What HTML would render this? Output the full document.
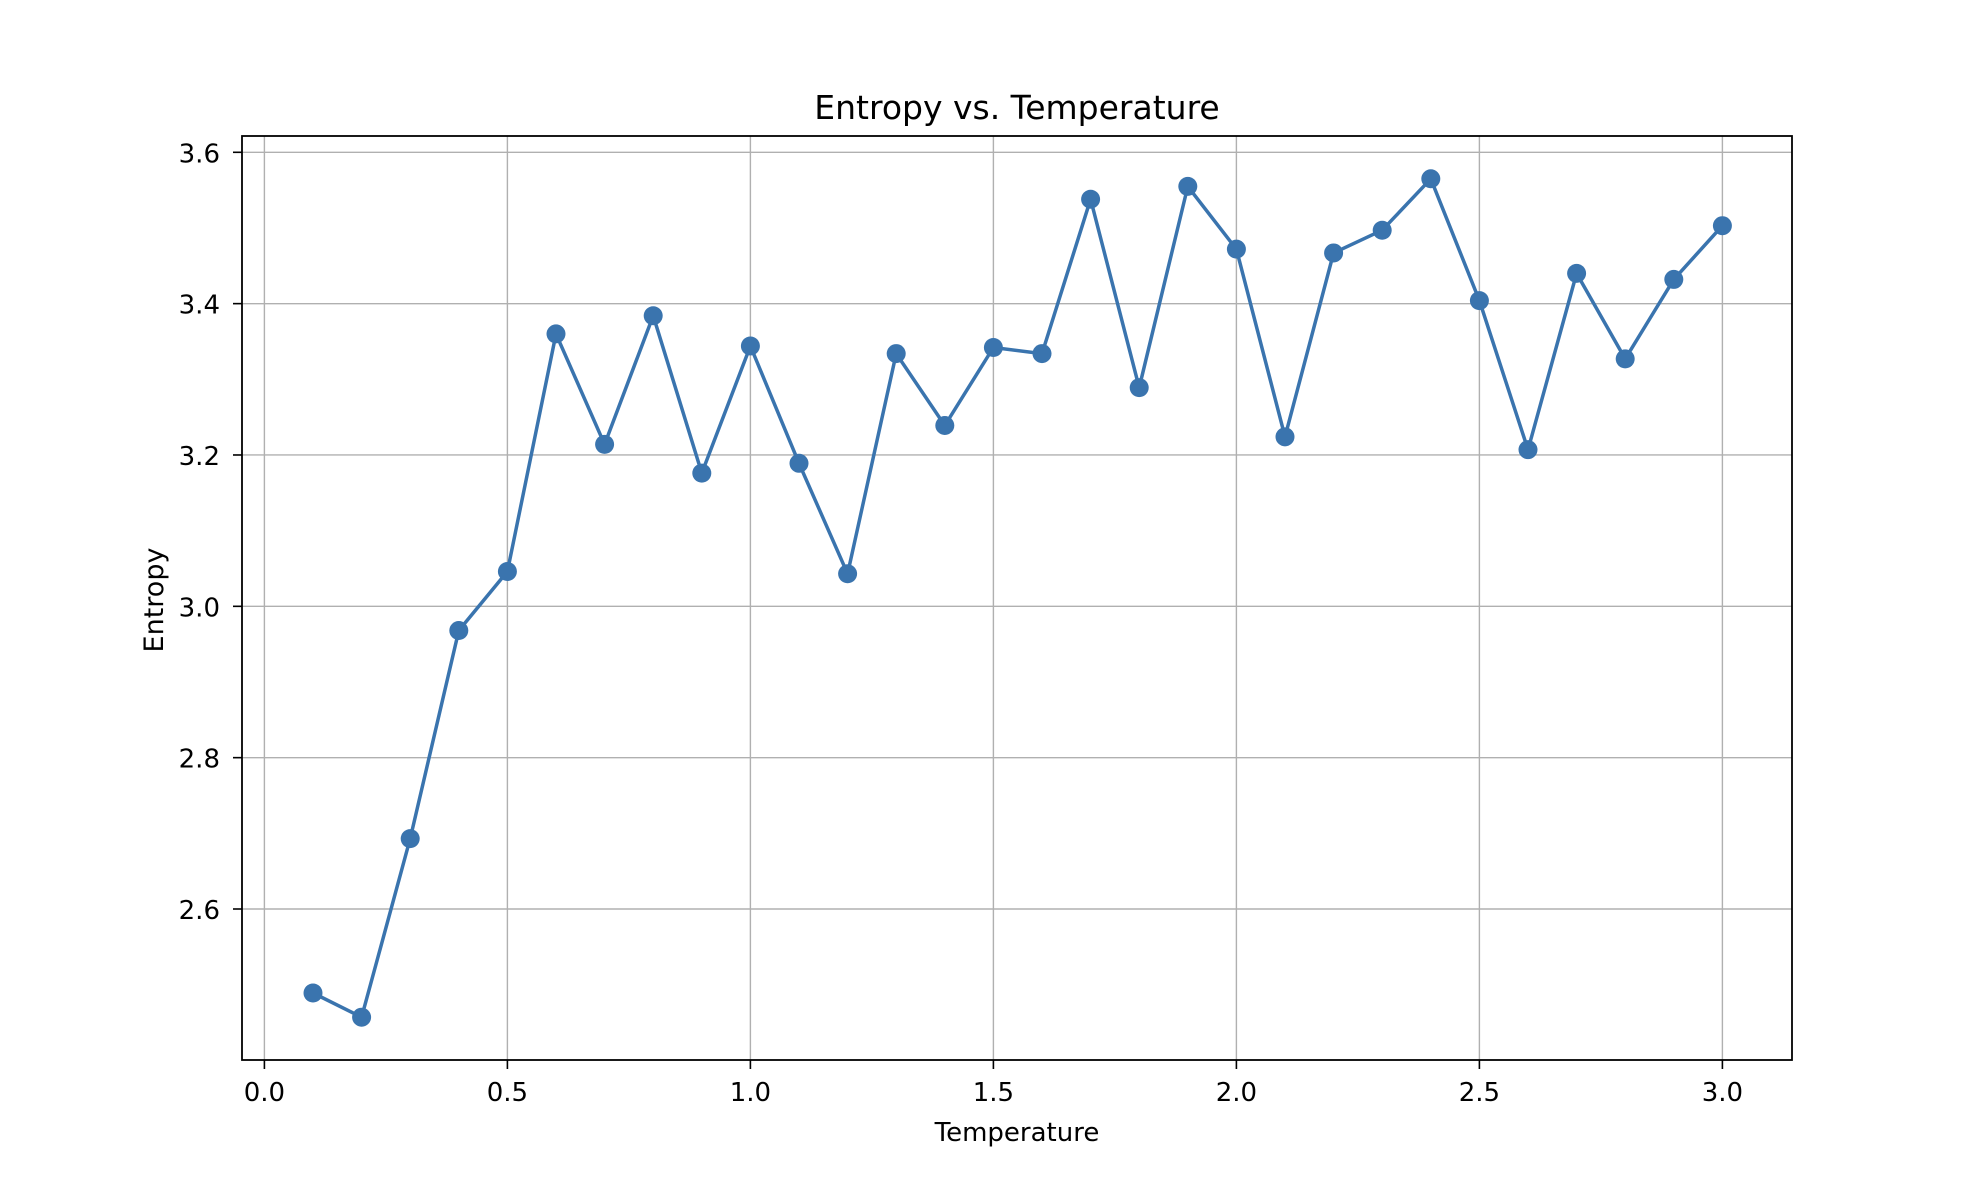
<!DOCTYPE html>
<html><head><meta charset="utf-8"><style>
html,body{margin:0;padding:0;background:#fff}
svg{display:block}
text{font-family:"DejaVu Sans","Liberation Sans",sans-serif;fill:#000}
</style></head><body>
<svg id="chart" width="1974" height="1182" viewBox="0 0 1974 1182" xmlns="http://www.w3.org/2000/svg">
<rect width="1974" height="1182" fill="#fff"/>
<g id="grid"></g>
<g id="series"></g>
<rect x="242" y="136" width="1550" height="924" fill="none" stroke="#000" stroke-width="1.8"/>
<g id="ticks"></g>
<text x="1017" y="119" font-size="33" text-anchor="middle">Entropy vs. Temperature</text>
<text x="1017" y="1141" font-size="26" text-anchor="middle">Temperature</text>
<text transform="translate(163,600) rotate(-90)" font-size="27" text-anchor="middle">Entropy</text>
</svg>
<script>
const temps=[0.1,0.2,0.3,0.4,0.5,0.6,0.7,0.8,0.9,1.0,1.1,1.2,1.3,1.4,1.5,1.6,1.7,1.8,1.9,2.0,2.1,2.2,2.3,2.4,2.5,2.6,2.7,2.8,2.9,3.0];
const entropy=[2.489,2.457,2.693,2.968,3.046,3.360,3.214,3.384,3.176,3.344,3.189,3.043,3.334,3.239,3.342,3.334,3.538,3.289,3.555,3.472,3.224,3.467,3.497,3.565,3.404,3.207,3.440,3.327,3.432,3.503];
const xTicks=[0.0,0.5,1.0,1.5,2.0,2.5,3.0];
const xTickLabels=["0.0","0.5","1.0","1.5","2.0","2.5","3.0"];
const yTicks=[2.6,2.8,3.0,3.2,3.4,3.6];
const yTickLabels=["2.6","2.8","3.0","3.2","3.4","3.6"];

const NS="http://www.w3.org/2000/svg";
const L=242,R=1792,T=136,B=1060;
function xs(v){return 264.4+v*486.0;}
function ys(v){return 152.3+(3.6-v)*756.7;}
function mk(tag,attrs,parent){const e=document.createElementNS(NS,tag);for(const k in attrs)e.setAttribute(k,attrs[k]);parent.appendChild(e);return e;}
const grid=document.getElementById('grid'),ticks=document.getElementById('ticks'),series=document.getElementById('series');
xTicks.forEach((t,i)=>{
  const x=xs(t);
  const g=mk('line',{x1:x,x2:x,y1:T,y2:B,stroke:'#b0b0b0','stroke-width':1.4},grid);
  
  
  const tk=mk('line',{x1:x,x2:x,y1:B,y2:B+9,stroke:'#000','stroke-width':1.6},ticks);
  
  
  const tx=mk('text',{x:x,y:B+41,'font-size':26,'text-anchor':'middle'},ticks);
  tx.textContent=xTickLabels[i];
  
  
});
yTicks.forEach((t,i)=>{
  const y=ys(t);
  const g=mk('line',{x1:L,x2:R,y1:y,y2:y,stroke:'#b0b0b0','stroke-width':1.4},grid);
  
  
  const tk=mk('line',{x1:L-9,x2:L,y1:y,y2:y,stroke:'#000','stroke-width':1.6},ticks);
  
  
  const tx=mk('text',{x:L-22,y:y+10,'font-size':26,'text-anchor':'end'},ticks);
  tx.textContent=yTickLabels[i];
  
  
});
const pts=temps.map((t,i)=>xs(t).toFixed(1)+','+ys(entropy[i]).toFixed(1)).join(' ');
const pl=mk('polyline',{points:pts,fill:'none',stroke:'#3a74ae','stroke-width':3.5,'stroke-linejoin':'round'},series);


temps.forEach((t,i)=>{
  const c=mk('circle',{cx:xs(t),cy:ys(entropy[i]),r:9.5,fill:'#3a74ae'},series);
  
  
});
</script>
</body></html>
